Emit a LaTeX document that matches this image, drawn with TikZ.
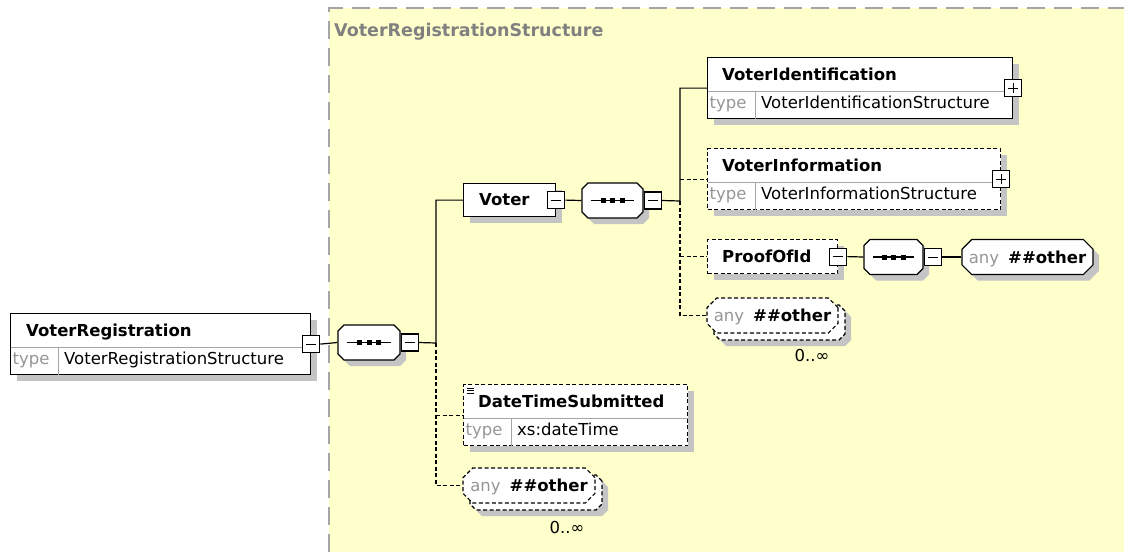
\documentclass[tikz,border=0pt]{standalone}
\usepackage{fontspec}
\setmainfont{DejaVu Sans}
\usetikzlibrary{shapes.misc,shadows,calc}

\definecolor{structfill}{RGB}{255,255,204}
\definecolor{shadowgray}{RGB}{196,196,196}
\definecolor{typegray}{RGB}{150,150,150}
\definecolor{bordergray}{RGB}{165,165,165}
\newcommand\xsdfont{\fontsize{16.5}{20}\selectfont}

\tikzset{
  shadowed/.style={drop shadow={shadow xshift=6pt, shadow yshift=-6pt, fill=shadowgray, opacity=1}},
  element/.style={draw, fill=white, line width=1.2pt, inner sep=0pt, anchor=north west},
  optional/.style={dash pattern=on 4pt off 2.5pt},
  compositor/.style={chamfered rectangle, chamfered rectangle xsep=6pt, draw, fill=white,
    line width=1.2pt, inner sep=0pt, minimum height=35pt, text height=12pt, text depth=0pt},
  title/.style={anchor=west, inner sep=0pt, text height=12pt, text depth=3.5pt, font=\xsdfont\bfseries},
  typeval/.style={anchor=west, inner sep=0pt, text height=12pt, text depth=3.5pt, font=\xsdfont},
  typekey/.style={typeval, text=typegray},
  divider/.style={draw=bordergray, line width=1pt},
  connector/.style={line width=1.2pt},
  collapse/.style={draw, fill=white, line width=1.2pt, minimum size=17pt, inner sep=0pt,
    path picture={\draw[line width=1pt] ([xshift=3.5pt]path picture bounding box.west)
      -- ([xshift=-3.5pt]path picture bounding box.east);}},
  expand/.style={draw, fill=white, line width=1.2pt, minimum size=17pt, inner sep=0pt,
    path picture={\draw[line width=1pt] ([xshift=3.5pt]path picture bounding box.west)
      -- ([xshift=-3.5pt]path picture bounding box.east);
      \draw[line width=1pt] ([yshift=-3.5pt]path picture bounding box.north)
      -- ([yshift=3.5pt]path picture bounding box.south);}},
  sequence/.style={compositor, shadowed, path picture={
      \draw[black, line width=1.2pt] ([xshift=9pt]path picture bounding box.west)
        -- ([xshift=-9pt]path picture bounding box.east);
      \foreach \dx in {-9.5,0,9.5}
        \fill[black] ([xshift=\dx pt]path picture bounding box.center) ++(-2.5pt,-2.5pt) rectangle ++(5pt,5pt);}},
  wildcard/.style={compositor, font=\xsdfont},
  occurs/.style={inner sep=0pt, font=\xsdfont}
}

\begin{document}
\begin{tikzpicture}[x=1pt, y=-1pt]
  \fill[white] (0,0) rectangle (1124,552);
  \useasboundingbox (0,0) rectangle (1124,552);

  % complex type area
  \fill[structfill] (329,8) rectangle (1124,552);
  \draw[bordergray, line width=1.5pt, dash pattern=on 18pt off 9pt] (329,552) -- (329,8) -- (1124,8);
  \node[anchor=west, inner sep=0pt, text=gray, font=\fontsize{17.5}{20}\selectfont\bfseries]
    (structure-label) at (334,32) {VoterRegistrationStructure};

  % elements
  \node[element, shadowed, minimum width=300pt, minimum height=61pt] (voter-registration) at (10,313) {};
  \node[element, shadowed, minimum width=92pt, minimum height=33pt] (voter) at (463,183) {};
  \node[element, shadowed, minimum width=305pt, minimum height=61pt] (voter-identification) at (707,57) {};
  \node[element, shadowed, optional, minimum width=293pt, minimum height=61pt] (voter-information) at (707,148) {};
  \node[element, shadowed, optional, minimum width=130pt, minimum height=34pt] (proof-of-id) at (707,239) {};
  \node[element, shadowed, optional, minimum width=224pt, minimum height=61pt] (date-time-submitted) at (463,384) {};

  \node[title] at ($(voter-registration.north west)+(16,19.5)$) {VoterRegistration};
  \node[title] at ($(voter.north west)+(16,18.5)$) {Voter};
  \node[title] at ($(voter-identification.north west)+(15,19.5)$) {VoterIdentification};
  \node[title] at ($(voter-information.north west)+(15,19.5)$) {VoterInformation};
  \node[title] at ($(proof-of-id.north west)+(15,19.5)$) {ProofOfId};
  \node[title] at ($(date-time-submitted.north west)+(15,19.5)$) {DateTimeSubmitted};
  \foreach \dy in {4,6.5,9}
    \draw[line width=0.8pt] ($(date-time-submitted.north west)+(4,\dy)$) -- ++(7,0);

  \foreach \nm/\typ in {voter-registration/VoterRegistrationStructure,
      voter-identification/VoterIdentificationStructure,
      voter-information/VoterInformationStructure, date-time-submitted/xs:dateTime} {
    \draw[divider] ($(\nm.north west)+(0.6,34)$) -- ($(\nm.north east)+(-0.6,34)$);
    \draw[divider] ($(\nm.north west)+(48,34)$) -- ($(\nm.south west)+(48,-0.6)$);
    \node[typekey] at ($(\nm.north west)+(2.5,47.5)$) {type};
    \node[typeval] at ($(\nm.north west)+(54,47.5)$) {\typ};
  }

  % compositors and wildcards
  \node[sequence, minimum width=62pt] (seq-registration) at (369,342.5) {};
  \node[sequence, minimum width=61pt] (seq-voter) at (612.5,200.5) {};
  \node[sequence, minimum width=59pt] (seq-proof) at (893.5,257) {};
  \node[wildcard, shadowed, minimum width=131pt] (any-proof) at (1027.5,257)
    {\textcolor{typegray}{any}\hspace{9pt}\textbf{\#\#other}};
  \node[wildcard, shadowed, optional, minimum width=131pt] (any-voter-back) at (779.5,322.5) {};
  \node[wildcard, optional, minimum width=131pt] (any-voter) at (772.5,315.5)
    {\textcolor{typegray}{any}\hspace{9pt}\textbf{\#\#other}};
  \node[wildcard, shadowed, optional, minimum width=132pt] (any-registration-back) at (536,492.5) {};
  \node[wildcard, optional, minimum width=132pt] (any-registration) at (529,485.5)
    {\textcolor{typegray}{any}\hspace{9pt}\textbf{\#\#other}};
  \node[occurs] (any-voter-occurs) at (812,355) {0..∞};
  \node[occurs] (any-registration-occurs) at (567,527) {0..∞};

  % expand / collapse buttons
  \node[collapse] (voter-registration-minus) at (voter-registration.east) {};
  \node[collapse, anchor=west] (seq-registration-minus) at (seq-registration.east) {};
  \node[collapse] (voter-minus) at (voter.east) {};
  \node[collapse, anchor=west] (seq-voter-minus) at (seq-voter.east) {};
  \node[expand] (voter-identification-plus) at (voter-identification.east) {};
  \node[expand] (voter-information-plus) at (voter-information.east) {};
  \node[collapse] (proof-of-id-minus) at (proof-of-id.east) {};
  \node[collapse, anchor=west] (seq-proof-minus) at (seq-proof.east) {};

  % connectors
  \coordinate (bus-registration) at (436,343);
  \coordinate (bus-voter) at (680,201);
  \draw[connector] (voter-registration-minus.east) -- (seq-registration.west);
  \draw[connector] (seq-registration-minus.east) -- (bus-registration) |- (voter.west);
  \draw[connector, optional] (bus-registration) -- (bus-registration |- any-registration.west) -- (any-registration.west);
  \draw[connector, optional] (bus-registration |- date-time-submitted.west) -- (date-time-submitted.west);
  \draw[connector] (voter-minus.east) -- (seq-voter.west);
  \draw[connector] (seq-voter-minus.east) -- (bus-voter) |- (voter-identification.west);
  \draw[connector, optional] (bus-voter) -- (bus-voter |- any-voter.west) -- (any-voter.west);
  \draw[connector, optional] (bus-voter |- voter-information.west) -- (voter-information.west);
  \draw[connector, optional] (bus-voter |- proof-of-id.west) -- (proof-of-id.west);
  \draw[connector] (proof-of-id-minus.east) -- (seq-proof.west);
  \draw[connector] (seq-proof-minus.east) -- (any-proof.west);
\end{tikzpicture}
\end{document}
